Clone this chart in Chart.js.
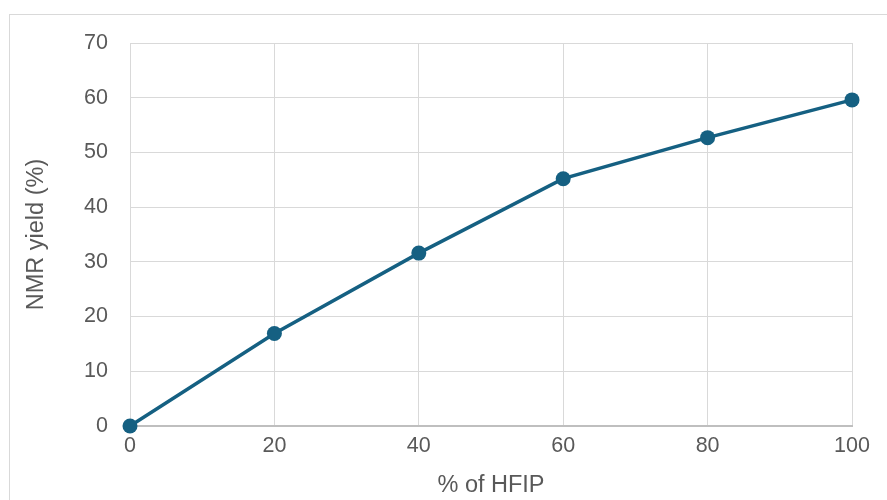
<!DOCTYPE html>
<html>
<head>
<meta charset="utf-8">
<script src="https://cdn.jsdelivr.net/npm/chart.js@4"></script>
<style>
    html, body { margin: 0; padding: 0; background: #ffffff; }
    #wrap { position: relative; width: 887px; height: 500px; }
</style>
</head>
<body>
<div id="wrap"><canvas id="hfipChart" width="887" height="500"></canvas></div>
<script>
// data
const hfipPercent = [0, 20, 40, 60, 80, 100];
const nmrYield = [0, 16.9, 31.6, 45.2, 52.7, 59.6];
const yTicks = [0, 10, 20, 30, 40, 50, 60, 70];

const lineColor = "#156082";
const textColor = "#595959";
const fontFamily = "'Liberation Sans', Arial, sans-serif";

// outer chart frame (Excel style)
const framePlugin = {
    id: "frame",
    beforeDraw(chart) {
        const ctx = chart.ctx;
        ctx.save();
        ctx.strokeStyle = "#d9d9d9";
        ctx.lineWidth = 1;
        ctx.strokeRect(9.5, 14.5, 900, 520);
        ctx.restore();
    }
};

new Chart(document.getElementById("hfipChart"), {
    type: "line",
    data: {
        datasets: [{
            label: "NMR yield",
            data: hfipPercent.map((x, i) => ({ x: x, y: nmrYield[i] })),
            borderColor: lineColor,
            backgroundColor: lineColor,
            borderWidth: 3.5,
            pointRadius: 7.5,
            pointHoverRadius: 7.5,
            pointBorderWidth: 0,
            tension: 0,
            fill: false,
            clip: false
        }]
    },
    options: {
        responsive: false,
        animation: false,
        layout: { padding: { left: 22, top: 43, right: 35, bottom: 0 } },
        plugins: {
            legend: { display: false },
            tooltip: { enabled: false }
        },
        scales: {
            x: {
                type: "linear",
                min: 0,
                max: 100,
                afterBuildTicks(scale) {
                    scale.ticks = hfipPercent.map(v => ({ value: v }));
                },
                afterFit(scale) { scale.height = 74; },
                grid: { color: "#d9d9d9", lineWidth: 1, drawTicks: false },
                border: { color: "#bfbfbf", width: 2 },
                ticks: {
                    color: textColor,
                    font: { family: fontFamily, size: 21.5 },
                    padding: 7
                },
                title: {
                    display: true,
                    text: "% of HFIP",
                    color: textColor,
                    font: { family: fontFamily, size: 23.5 },
                    padding: { top: 8, bottom: 0 }
                }
            },
            y: {
                min: 0,
                max: 70,
                afterBuildTicks(scale) {
                    scale.ticks = yTicks.map(v => ({ value: v }));
                },
                afterFit(scale) { scale.width = 108; },
                grid: { color: "#d9d9d9", lineWidth: 1, drawTicks: false },
                border: { display: false },
                ticks: {
                    color: textColor,
                    font: { family: fontFamily, size: 21.5 },
                    padding: 22
                },
                title: {
                    display: true,
                    text: "NMR yield (%)",
                    color: textColor,
                    font: { family: fontFamily, size: 23.5 },
                    padding: { top: 0, bottom: 0 }
                }
            }
        }
    },
    plugins: [framePlugin]
});
</script>
</body>
</html>
